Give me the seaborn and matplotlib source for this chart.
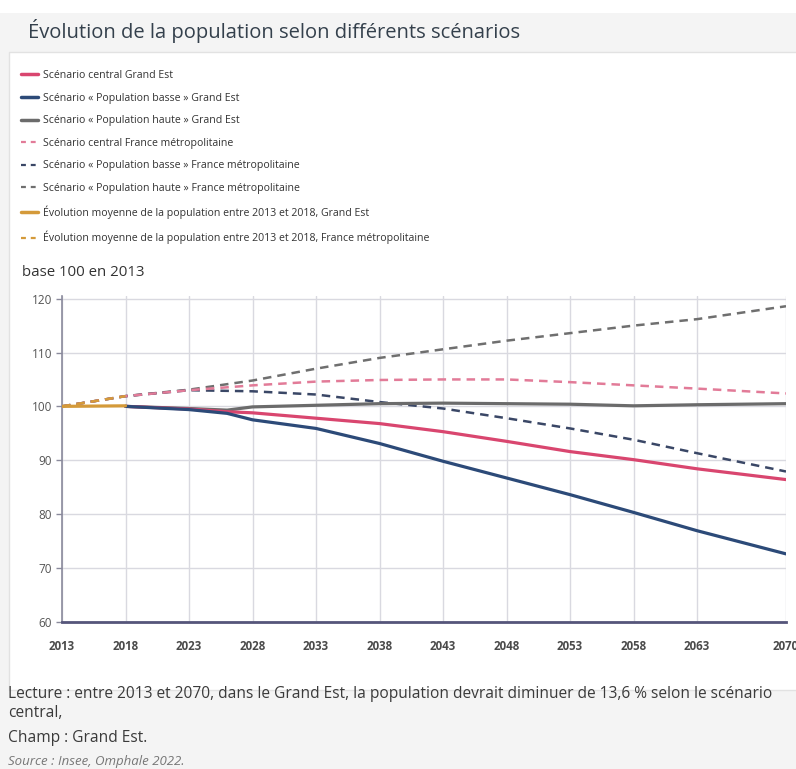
# Évolution de la population selon différents scénarios (Grand Est / France métropolitaine)

import pandas as pd
import matplotlib.pyplot as plt
import seaborn as sns
from matplotlib.patches import Rectangle
from matplotlib.lines import Line2D

# --- data (base 100 en 2013) --------------------------------------------------

years_hist = [2013, 2018]
ge_hist = [100.0, 100.1]
fr_hist = [100.0, 101.9]

years_ge = [2018, 2023, 2026, 2028, 2033, 2038, 2043, 2048, 2053, 2058, 2063, 2070]
ge_central = [100.0, 99.5, 99.0, 98.8, 97.8, 96.8, 95.3, 93.5, 91.6, 90.1, 88.4, 86.4]
ge_basse = [100.0, 99.4, 98.7, 97.5, 95.9, 93.1, 89.8, 86.7, 83.6, 80.3, 76.9, 72.6]
ge_haute = [100.0, 99.6, 99.3, 99.9, 100.2, 100.5, 100.6, 100.5, 100.4, 100.1, 100.3, 100.5]

years_fr = [2013, 2018, 2023, 2028, 2033, 2038, 2043, 2048, 2053, 2058, 2063, 2070]
fr_central = [100.0, 101.9, 103.0, 103.9, 104.6, 104.9, 105.0, 105.0, 104.5, 103.9, 103.3, 102.4]
fr_basse = [100.0, 101.9, 103.0, 102.8, 102.2, 100.8, 99.6, 97.8, 95.9, 93.8, 91.3, 87.9]
fr_haute = [100.0, 101.9, 103.1, 104.8, 107.0, 109.0, 110.6, 112.2, 113.6, 115.0, 116.2, 118.6]

labels = [
    "Scénario central Grand Est",
    "Scénario « Population basse » Grand Est",
    "Scénario « Population haute » Grand Est",
    "Scénario central France métropolitaine",
    "Scénario « Population basse » France métropolitaine",
    "Scénario « Population haute » France métropolitaine",
    "Évolution moyenne de la population entre 2013 et 2018, Grand Est",
    "Évolution moyenne de la population entre 2013 et 2018, France métropolitaine",
]
xticks = [2013, 2018, 2023, 2028, 2033, 2038, 2043, 2048, 2053, 2058, 2063, 2070]
yticks = [60, 70, 80, 90, 100, 110, 120]

PINK = "#d9466f"
BLUE = "#2c4a78"
GRAY = "#6b6b6b"
ORANGE = "#d49a3a"
PINK_D = "#e27b98"
NAVY_D = "#3a4766"
GRAY_D = "#6f6f6f"

series = [
    (years_ge, ge_central, PINK, "-"),
    (years_ge, ge_basse, BLUE, "-"),
    (years_ge, ge_haute, GRAY, "-"),
    (years_fr, fr_central, PINK_D, "--"),
    (years_fr, fr_basse, NAVY_D, "--"),
    (years_fr, fr_haute, GRAY_D, "--"),
    (years_hist, ge_hist, ORANGE, "-"),
    (years_hist, fr_hist, ORANGE, "--"),
]

sns.set_theme(style="white")
plt.rcParams["font.family"] = ["Open Sans", "DejaVu Sans"]

W, H = 796, 769
fig = plt.figure(figsize=(W / 100, H / 100), dpi=100, facecolor="#f4f4f4")


def fx(px):
    return px / W


def fy(py):
    return 1 - py / H


# background panels
fig.patches.append(Rectangle((0, fy(13)), 1, 13 / H, transform=fig.transFigure,
                             facecolor="white", edgecolor="none", zorder=-10))
fig.patches.append(Rectangle((fx(9), fy(690)), 1, (690 - 52) / H, transform=fig.transFigure,
                             facecolor="white", edgecolor="#e2e2e2", lw=1, zorder=-10))

fig.text(fx(28), fy(31), "Évolution de la population selon différents scénarios",
         fontsize=14.5, color="#34404c", va="center", ha="left")

ax = fig.add_axes([fx(62), fy(621.7), fx(786) - fx(62), (621.7 - 296) / H])
ax.set_facecolor("white")

# France scenarios first, Grand Est on top
order = [5, 4, 3, 7, 2, 0, 1, 6]
for i in order:
    x, y, c, ls = series[i]
    d = pd.DataFrame({"year": x, "value": y})
    lw = 2.3 if ls == "-" else 1.8
    sns.lineplot(data=d, x="year", y="value", ax=ax, color=c, lw=lw,
                 linestyle=ls, zorder=3 if ls == "-" else 2)
for line in ax.get_lines():
    if line.get_linestyle() == "--":
        line.set_dashes((3.4, 2.4))

ax.set_xlim(2013, 2070)
ax.set_ylim(60, 120.5)
ax.set_xticks(xticks)
ax.set_yticks(yticks)
ax.set_xlabel("")
ax.set_ylabel("")
ax.grid(True, color="#d9d9e0", lw=1)
for s in ["top", "right"]:
    ax.spines[s].set_visible(False)
ax.spines["left"].set_color("#8a8a9c")
ax.spines["left"].set_linewidth(1.2)
ax.spines["bottom"].set_color("#55557a")
ax.spines["bottom"].set_linewidth(2)
ax.tick_params(axis="y", left=True, length=4, width=1, color="#8a8a9c",
               labelsize=8.5, labelcolor="#555555", pad=3)
ax.tick_params(axis="x", bottom=False, labelsize=8.3, labelcolor="#4a4a4a", pad=7)
for t in ax.get_xticklabels():
    t.set_fontweight("bold")

fig.text(fx(22), fy(272), "base 100 en 2013", fontsize=10.8, color="#333333",
         va="center", ha="left")

handles = [Line2D([], [], color=c, lw=2.5 if ls == "-" else 1.6, linestyle=ls)
           for _, _, c, ls in series]
for h in handles:
    if h.get_linestyle() == "--":
        h.set_dashes((2.2, 2.2))
fig.legend(handles, labels, loc="upper left", bbox_to_anchor=(fx(21), fy(70)),
           frameon=False, fontsize=7.6, labelcolor="#333333", handlelength=1.6,
           handletextpad=0.45, labelspacing=1.1, borderaxespad=0, borderpad=0)

fig.text(fx(8), fy(694), "Lecture : entre 2013 et 2070, dans le Grand Est, la population devrait "
         "diminuer de 13,6 % selon le scénario", fontsize=11.2, color="#3a3a3a", va="center")
fig.text(fx(8), fy(713), "central,", fontsize=11.2, color="#3a3a3a", va="center")
fig.text(fx(8), fy(738), "Champ : Grand Est.", fontsize=11.2, color="#3a3a3a", va="center")
fig.text(fx(8), fy(761), "Source : Insee, Omphale 2022.", fontsize=9.5, color="#777777",
         style="italic", va="center")

fig.savefig("out.png", dpi=100, facecolor=fig.get_facecolor())
